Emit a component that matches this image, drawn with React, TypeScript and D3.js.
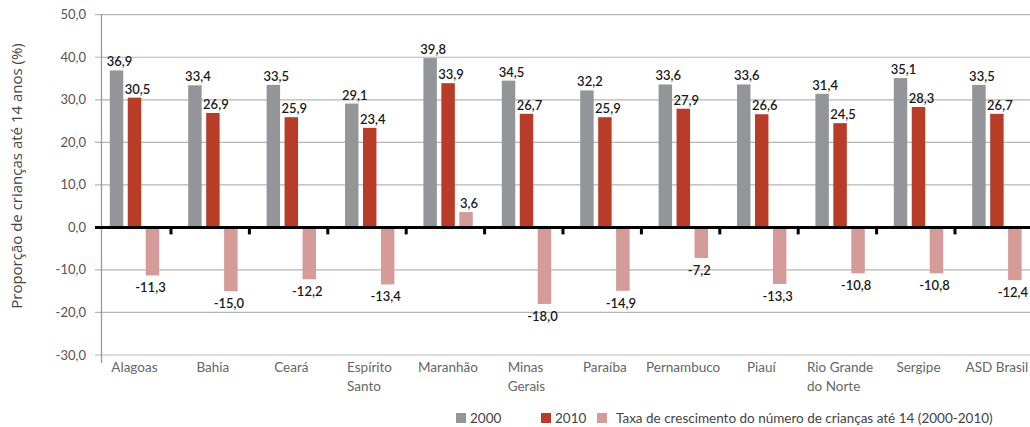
import React, { useRef, useEffect } from "react";
import * as d3 from "d3";

const categories = [
  "Alagoas",
  "Bahia",
  "Ceará",
  "Espírito Santo",
  "Maranhão",
  "Minas Gerais",
  "Paraíba",
  "Pernambuco",
  "Piauí",
  "Rio Grande do Norte",
  "Sergipe",
  "ASD Brasil",
];
// line breaks used for the category labels
const categoryLines = [
  ["Alagoas"],
  ["Bahia"],
  ["Ceará"],
  ["Espírito", "Santo"],
  ["Maranhão"],
  ["Minas", "Gerais"],
  ["Paraíba"],
  ["Pernambuco"],
  ["Piauí"],
  ["Rio Grande", "do Norte"],
  ["Sergipe"],
  ["ASD Brasil"],
];
const values2000 = [36.9, 33.4, 33.5, 29.1, 39.8, 34.5, 32.2, 33.6, 33.6, 31.4, 35.1, 33.5];
const values2010 = [30.5, 26.9, 25.9, 23.4, 33.9, 26.7, 25.9, 27.9, 26.6, 24.5, 28.3, 26.7];
const growth = [-11.3, -15.0, -12.2, -13.4, 3.6, -18.0, -14.9, -7.2, -13.3, -10.8, -10.8, -12.4];
const seriesNames = ["2000", "2010", "Taxa de crescimento do número de crianças até 14 (2000-2010)"];
const yTicks = [-30, -20, -10, 0, 10, 20, 30, 40, 50];

const colors = ["#939598", "#b83c27", "#d49b99"];

function App() {
  const svgRef = useRef<SVGSVGElement | null>(null);

  useEffect(() => {
    document.body.style.overflow = "hidden";
    document.body.style.margin = "0";
    const width = 1030;
    const height = 427;
    const svg = d3.select(svgRef.current);
    svg.selectAll("*").remove();
    svg.attr("width", width).attr("height", height);

    const fmt = (v: number) => v.toFixed(1).replace(".", ",");
    const labelFont = "Lato, 'Open Sans', sans-serif";

    const y = d3.scaleLinear().domain([-30, 50]).range([355, 14.7]);
    const x = d3
      .scaleBand<string>()
      .domain(categories)
      .range([92.6, 92.6 + 78.4 * categories.length])
      .padding(0);
    const xs = d3
      .scaleBand<string>()
      .domain(seriesNames)
      .range([17.2, 66.6])
      .paddingInner(0.25);

    const gridLeft = 95;
    const gridRight = width;

    // grid lines
    svg
      .append("g")
      .selectAll("line")
      .data(yTicks.filter((d) => d !== 0))
      .enter()
      .append("line")
      .attr("x1", gridLeft)
      .attr("x2", gridRight)
      .attr("y1", (d) => y(d))
      .attr("y2", (d) => y(d))
      .attr("stroke", "#b5b5b5")
      .attr("stroke-width", 1.2);

    // y axis line
    svg
      .append("line")
      .attr("x1", 101.5)
      .attr("x2", 101.5)
      .attr("y1", y(50))
      .attr("y2", 363)
      .attr("stroke", "#9a9a9a")
      .attr("stroke-width", 1.3);

    // y tick labels
    svg
      .append("g")
      .selectAll("text")
      .data(yTicks)
      .enter()
      .append("text")
      .attr("x", 86)
      .attr("y", (d) => y(d) + 4.5)
      .attr("text-anchor", "end")
      .attr("font-family", labelFont)
      .attr("font-size", 13)
      .attr("fill", "#555")
      .text((d) => fmt(d));

    // y axis title
    svg
      .append("text")
      .attr("transform", `translate(22,176) rotate(-90)`)
      .attr("text-anchor", "middle")
      .attr("font-family", "'Open Sans', sans-serif")
      .attr("font-size", 15)
      .attr("fill", "#444")
      .text("Proporção de crianças até 14 anos (%)");

    const rows = categories.map((c, i) => ({
      cat: c,
      vals: [values2000[i], values2010[i], growth[i]],
    }));

    const groups = svg
      .append("g")
      .selectAll("g")
      .data(rows)
      .enter()
      .append("g")
      .attr("transform", (d) => `translate(${x(d.cat)},0)`);

    const bars = groups
      .selectAll("g")
      .data((d) => d.vals.map((v, j) => ({ v, s: seriesNames[j], j })))
      .enter()
      .append("g");

    bars
      .append("rect")
      .attr("x", (d) => xs(d.s)!)
      .attr("width", xs.bandwidth())
      .attr("y", (d) => Math.min(y(d.v), y(0)))
      .attr("height", (d) => Math.abs(y(d.v) - y(0)))
      .attr("fill", (d) => colors[d.j]);

    bars
      .append("text")
      .attr("x", (d) => xs(d.s)! + xs.bandwidth() / 2 + (d.v >= 0 ? 3 : -2))
      .attr("y", (d) => (d.v >= 0 ? y(d.v) - 4 : y(d.v) + 17))
      .attr("text-anchor", "middle")
      .attr("font-family", labelFont)
      .attr("font-size", 13)
      .attr("font-weight", 600)
      .attr("fill", "#1a1a1a")
      .text((d) => fmt(d.v));

    // zero line
    svg
      .append("line")
      .attr("x1", gridLeft)
      .attr("x2", gridRight)
      .attr("y1", y(0))
      .attr("y2", y(0))
      .attr("stroke", "#000")
      .attr("stroke-width", 3);

    // category boundary ticks
    svg
      .append("g")
      .selectAll("line")
      .data(categories.slice(1))
      .enter()
      .append("line")
      .attr("x1", (d) => x(d)!)
      .attr("x2", (d) => x(d)!)
      .attr("y1", y(0))
      .attr("y2", y(0) + 7)
      .attr("stroke", "#000")
      .attr("stroke-width", 3);

    // category labels (block left-aligned, centred on group)
    categories.forEach((c, i) => {
      const cx = x(c)! + (xs(seriesNames[0])! + xs(seriesNames[2])! + xs.bandwidth()) / 2;
      const t = svg
        .append("text")
        .attr("font-family", labelFont)
        .attr("font-size", 13.5)
        .attr("fill", "#666");
      categoryLines[i].forEach((line, k) => {
        t.append("tspan")
          .attr("x", 0)
          .attr("y", 372 + k * 18.5)
          .text(line);
      });
      const w = (t.node() as SVGTextElement).getBBox().width;
      t.attr("transform", `translate(${cx - w / 2},0)`);
    });

    // legend
    const legendX = [456, 541, 597];
    const legendTextX = [470, 555, 616];
    const legend = svg.append("g");
    seriesNames.forEach((s, j) => {
      legend
        .append("rect")
        .attr("x", legendX[j])
        .attr("y", 413)
        .attr("width", 10)
        .attr("height", 10)
        .attr("fill", colors[j]);
      legend
        .append("text")
        .attr("x", legendTextX[j])
        .attr("y", 422.5)
        .attr("font-family", labelFont)
        .attr("font-size", 13.5)
        .attr("fill", "#444")
        .text(s);
    });
  }, []);

  return (
    <div
      style={{
        position: "absolute",
        left: 0,
        top: 0,
        width: 1030,
        height: 427,
        overflow: "hidden",
        background: "#fff",
      }}
    >
      <svg ref={svgRef} style={{ display: "block" }} />
    </div>
  );
}

export default App;
